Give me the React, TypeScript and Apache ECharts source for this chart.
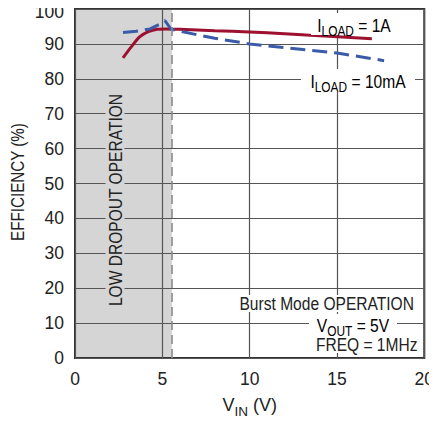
import React, { useEffect, useRef } from "react";
import * as echarts from "echarts";

const FONT = "'Liberation Sans', Arial, sans-serif";
const SX = 0.82;

const xTicks = [0, 5, 10, 15, 20];
const yTicks = [0, 10, 20, 30, 40, 50, 60, 70, 80, 90, 100];

const vin1A = [2.75, 3.2, 3.7, 4.2, 4.7, 5.2, 6, 8, 10, 12, 14, 17];
const eff1A = [86, 89, 92, 93.5, 94.2, 94.3, 94.2, 93.8, 93.4, 92.9, 92.3, 91.5];

const vin10mA = [2.75, 3.5, 4.3, 4.8, 5.15, 5.5, 6, 7, 8, 10, 12, 15, 17.7];
const eff10mA = [93.3, 93.6, 94.3, 95.5, 96.7, 94.2, 93.7, 92.6, 91.6, 90.0, 88.9, 87.4, 85.2];

const dropoutX = [0, 5.55];
const dropoutY = [100, 100];
const dropoutLimit = 5.55;

export default function App() {
  const ref = useRef<HTMLDivElement>(null);
  useEffect(() => {
    if (!ref.current) return;
    const chart = echarts.init(ref.current, undefined, { renderer: "svg" });
    const textBase = { fontFamily: FONT, fontSize: 19, fill: "#222" };
    const subRich = {
      a: { fontFamily: FONT, fontSize: 19, color: "#222", lineHeight: 27 },
      s: { fontFamily: FONT, fontSize: 14.5, color: "#222", verticalAlign: "bottom" as const },
    };
    const axRich = {
      a: { fontFamily: FONT, fontSize: 18, color: "#222", lineHeight: 26 },
      s: { fontFamily: FONT, fontSize: 13.5, color: "#222", verticalAlign: "bottom" as const },
    };
    const white = (x: number, y: number, w: number, h: number) => ({
      type: "rect",
      z: 9,
      silent: true,
      shape: { x, y, width: w, height: h },
      style: { fill: "#fff" },
    });
    const topY = yTicks[yTicks.length - 1];
    chart.setOption({
      animation: false,
      grid: {
        left: 75,
        right: 10,
        top: 9,
        bottom: 63,
        show: true,
        borderColor: "#333",
        borderWidth: 2,
        backgroundColor: "transparent",
      },
      xAxis: {
        type: "value",
        min: xTicks[0],
        max: xTicks[xTicks.length - 1],
        interval: 5,
        axisLine: { show: false },
        axisTick: { show: false },
        splitLine: { show: true, lineStyle: { color: "#555", width: 1.2 } },
        axisLabel: { fontFamily: FONT, fontSize: 17.5, color: "#222", margin: 12 },
        name: "{a|V}{s|IN}{a| (V)}",
        nameLocation: "middle",
        nameGap: 34,
        nameTextStyle: { rich: axRich },
      },
      yAxis: {
        type: "value",
        min: yTicks[0],
        max: topY,
        interval: 10,
        axisLine: { show: false },
        axisTick: { show: false },
        splitLine: { show: true, lineStyle: { color: "#555", width: 1.2 } },
        axisLabel: {
          fontFamily: FONT,
          fontSize: 17.5,
          color: "#222",
          margin: 11,
          formatter: (v: number) => (v === topY ? "{t|" + v + "}" : String(v)),
          rich: { t: { fontFamily: FONT, fontSize: 17.5, color: "#222", padding: [6, 0, 0, 0] } },
        },
      },
      series: [
        {
          type: "line",
          z: -1,
          data: dropoutX.map((x, i) => [x, dropoutY[i]]),
          symbol: "none",
          lineStyle: { width: 0 },
          areaStyle: { color: "#d5d5d6", opacity: 1 },
          markLine: {
            silent: true,
            symbol: "none",
            label: { show: false },
            lineStyle: { color: "#8a8a8a", type: [9, 5], width: 1.6 },
            data: [{ xAxis: dropoutLimit }],
          },
        },
        {
          type: "line",
          name: "1A",
          data: vin1A.map((x, i) => [x, eff1A[i]]),
          symbol: "none",
          smooth: 0.3,
          lineStyle: { color: "#9e1030", width: 3 },
          z: 3,
        },
        {
          type: "line",
          name: "10mA",
          data: vin10mA.map((x, i) => [x, eff10mA[i]]),
          symbol: "none",
          lineStyle: { color: "#3b5aa8", width: 3, type: [15, 7] },
          z: 4,
        },
      ],
      graphic: [
        white(311, 13, 87, 22),
        white(301, 69, 114, 23),
        white(233, 295, 188, 17),
        white(309, 314, 88, 22),
        white(312, 336, 110, 17),
        {
          type: "text",
          x: 17,
          y: 182,
          rotation: Math.PI / 2,
          scaleX: 0.8,
          z: 10,
          style: {
            ...textBase,
            text: "EFFICIENCY (%)",
            align: "center",
            verticalAlign: "middle",
          },
        },
        {
          type: "text",
          x: 115,
          y: 200,
          rotation: Math.PI / 2,
          scaleX: SX,
          z: 10,
          style: {
            ...textBase,
            text: "LOW DROPOUT OPERATION",
            align: "center",
            verticalAlign: "middle",
            backgroundColor: "#d5d5d6",
            padding: [0, 5],
          },
        },
        {
          type: "text",
          x: 354,
          y: 25,
          scaleX: SX,
          z: 10,
          style: {
            text: "{a|I}{s|LOAD}{a| = 1A}",
            rich: subRich,
            align: "center",
            verticalAlign: "middle",
          },
        },
        {
          type: "text",
          x: 358,
          y: 81,
          scaleX: SX,
          z: 10,
          style: {
            text: "{a|I}{s|LOAD}{a| = 10mA}",
            rich: subRich,
            align: "center",
            verticalAlign: "middle",
          },
        },
        {
          type: "text",
          x: 326.7,
          y: 303,
          scaleX: SX,
          z: 10,
          style: {
            ...textBase,
            text: "Burst Mode OPERATION",
            align: "center",
            verticalAlign: "middle",
          },
        },
        {
          type: "text",
          x: 353,
          y: 325,
          scaleX: SX,
          z: 10,
          style: {
            text: "{a|V}{s|OUT}{a| = 5V}",
            rich: subRich,
            align: "center",
            verticalAlign: "middle",
          },
        },
        {
          type: "text",
          x: 366.7,
          y: 344,
          scaleX: SX,
          z: 10,
          style: {
            ...textBase,
            text: "FREQ = 1MHz",
            align: "center",
            verticalAlign: "middle",
          },
        },
      ],
    });
    return () => chart.dispose();
  }, []);
  return <div ref={ref} style={{ width: 437, height: 423, marginLeft: -8, marginTop: -8 }} />;
}
